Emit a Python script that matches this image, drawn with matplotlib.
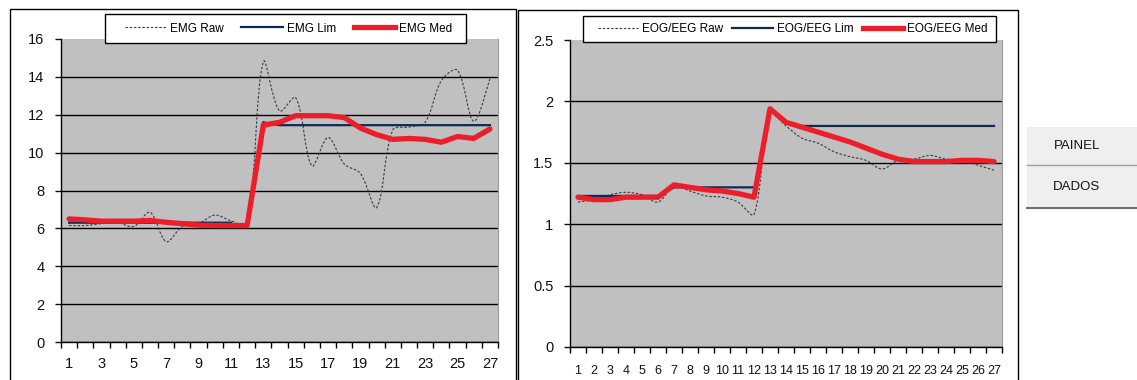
import numpy as np
import matplotlib
matplotlib.use("Agg")
import matplotlib.pyplot as plt
from matplotlib.path import Path
from matplotlib.patches import PathPatch, Rectangle
from matplotlib.lines import Line2D

plt.rcParams['font.family'] = ['Liberation Sans', 'DejaVu Sans']

sessions = list(range(1, 28))

emg_raw = [6.15, 6.15, 6.25, 6.3, 6.1, 6.85, 5.3, 6.1, 6.25, 6.7, 6.4, 6.2, 14.8,
           12.2, 12.9, 9.3, 10.8, 9.4, 8.9, 7.1, 11.2, 11.35, 11.6, 13.8, 14.35, 11.65, 13.9]
emg_lim = [6.3] * 11 + [np.nan] + [11.6] + [11.45] * 14
emg_med = [6.5, 6.45, 6.38, 6.38, 6.38, 6.42, 6.32, 6.25, 6.17, 6.15, 6.15, 6.15, 11.45,
           11.6, 11.95, 11.95, 11.95, 11.85, 11.3, 10.95, 10.7, 10.75, 10.7, 10.55, 10.85, 10.75, 11.25]

eog_raw = [1.18, 1.20, 1.24, 1.26, 1.24, 1.18, 1.31, 1.27, 1.23, 1.22, 1.18, 1.08, 1.90,
           1.80, 1.70, 1.66, 1.59, 1.55, 1.52, 1.45, 1.52, 1.53, 1.56, 1.53, 1.52, 1.48, 1.44]
eog_lim = [1.23] * 6 + [1.30] * 6 + [np.nan] + [1.82] + [1.80] * 13
eog_med = [1.22, 1.20, 1.20, 1.22, 1.22, 1.22, 1.32, 1.30, 1.28, 1.27, 1.25, 1.22, 1.94,
           1.83, 1.79, 1.75, 1.71, 1.67, 1.62, 1.57, 1.53, 1.51, 1.51, 1.51, 1.52, 1.52, 1.51]

W, H = 1137, 380
RED = '#EE1D2A'
NAVY = '#0B2A57'
RAW = '#3A3A3A'


def px_box(x0, y0, x1, y1):
    return [x0 / W, 1 - y1 / H, (x1 - x0) / W, (y1 - y0) / H]


def smooth_path(x, y, sx, sy):
    # smoothed line as cubic Beziers; tangents weighted by on-screen segment
    # lengths (sx, sy = pixels per data unit) so big jumps don't overshoot
    pts = np.column_stack([np.asarray(x, float) * sx, np.asarray(y, float) * sy])
    n = len(pts)
    d = np.r_[0.0, np.hypot(*np.diff(pts, axis=0).T), 0.0]
    tang = [pts[min(i + 1, n - 1)] - pts[max(i - 1, 0)] for i in range(n)]
    verts = [pts[0]]
    codes = [Path.MOVETO]
    for i in range(n - 1):
        a = d[i + 1] / (d[i] + d[i + 1]) / 3 if i > 0 else 1 / 6
        b = d[i + 1] / (d[i + 1] + d[i + 2]) / 3 if i < n - 2 else 1 / 6
        verts += [pts[i] + tang[i] * a, pts[i + 1] - tang[i + 1] * b, pts[i + 1]]
        codes += [Path.CURVE4] * 3
    verts = np.array(verts) / [sx, sy]
    return Path(verts, codes)


def draw_chart(ax, raw, lim, med, ymax, ystep, label_every, xfs, xpad, axw, axh):
    ax.set_facecolor('#C0C0C0')
    ax.set_xlim(0.5, 27.5)
    ax.set_ylim(0, ymax)
    yt = np.arange(0, ymax + ystep / 2, ystep)
    ax.set_yticks(yt)
    ax.set_yticklabels(['%g' % v for v in yt], fontsize=10.5)
    ax.yaxis.grid(True, color='black', lw=1.0)
    ax.set_axisbelow(True)
    ax.yaxis.get_gridlines()[-1].set_visible(False)

    shown = sessions[::label_every]
    ax.set_xticks(shown)
    ax.set_xticklabels([str(s) for s in shown], fontsize=xfs)
    ax.set_xticks(np.arange(0.5, 28, 1), minor=True)
    ax.tick_params(axis='x', which='major', length=0, pad=xpad)
    ax.tick_params(axis='x', which='minor', length=4, width=1, direction='out')
    ax.tick_params(axis='y', length=4, width=1, direction='out', pad=8)
    ax.tick_params(colors='#111111')

    for side in ('left', 'bottom'):
        ax.spines[side].set_color('black')
        ax.spines[side].set_linewidth(1.0)
    ax.spines['top'].set_visible(False)
    ax.spines['right'].set_color('#9A9A9A')

    ax.add_patch(PathPatch(smooth_path(sessions, raw, axw / 27, axh / ymax), fill=False,
                           ec=RAW, lw=0.8, linestyle=(0, (2.2, 1.6)), zorder=3))
    ax.plot(sessions, lim, color=NAVY, lw=1.6, zorder=4)
    ax.plot(sessions, med, color=RED, lw=3.8, zorder=5,
            solid_joinstyle='round', solid_capstyle='round')


def draw_legend(fig, names, box, handlelength, columnspacing):
    x0, y0, x1, y1 = box
    fig.add_artist(Rectangle((x0 / W, 1 - y1 / H), (x1 - x0) / W, (y1 - y0) / H,
                             transform=fig.transFigure, fc='white', ec='black',
                             lw=1.0, zorder=5))
    handles = [Line2D([], [], color=RAW, lw=0.8, linestyle=(0, (2.2, 1.6))),
               Line2D([], [], color=NAVY, lw=1.6),
               Line2D([], [], color=RED, lw=3.8)]
    cx = (x0 + x1) / 2 / W + 3 / W
    leg = fig.legend(handles, names, loc='center', bbox_to_anchor=(cx, 1 - (y0 + y1) / 2 / H),
                     ncol=3, fontsize=8.5, frameon=False, handlelength=handlelength,
                     handletextpad=0.35, columnspacing=columnspacing, borderpad=0,
                     borderaxespad=0)
    leg.set_zorder(6)


fig = plt.figure(figsize=(W / 100, H / 100), dpi=100)
fig.patch.set_facecolor('white')

# chart frames
fig.add_artist(Rectangle((10 / W, -0.05), (516 - 10) / W, (H - 9) / H + 0.05,
                         transform=fig.transFigure, fill=False, ec='black', lw=1.0))
fig.add_artist(Rectangle((518 / W, -0.05), (1018 - 518) / W, (H - 10) / H + 0.05,
                         transform=fig.transFigure, fill=False, ec='black', lw=1.0))

ax1 = fig.add_axes(px_box(61, 39, 498, 342))
draw_chart(ax1, emg_raw, emg_lim, emg_med, 16, 2, 2, 10.5, 11, 437, 303)
draw_legend(fig, ['EMG Raw', 'EMG Lim', 'EMG Med'], (105, 14, 466, 43), 3.5, 1.5)

ax2 = fig.add_axes(px_box(570, 40, 1002, 347))
draw_chart(ax2, eog_raw, eog_lim, eog_med, 2.5, 0.5, 1, 9, 13, 432, 307)
draw_legend(fig, ['EOG/EEG Raw', 'EOG/EEG Lim', 'EOG/EEG Med'], (583, 16, 996, 42), 3.4, 0.8)

# side buttons
for label, (top, bottom) in zip(['PAINEL', 'DADOS'], [(127, 165), (166, 208)]):
    fig.add_artist(Rectangle((1027 / W, 1 - bottom / H), (W - 1027) / W, (bottom - top) / H,
                             transform=fig.transFigure, fc='#EFEFEF', ec='none'))
    fig.add_artist(Line2D([1027 / W, 1], [1 - bottom / H] * 2, transform=fig.transFigure,
                          color='#A0A0A0' if label == 'PAINEL' else '#707070',
                          lw=1.0 if label == 'PAINEL' else 1.5))
    fig.text(1077 / W, 1 - (top + bottom) / 2 / H, label, ha='center', va='center',
             fontsize=9.5, color='#111111')

fig.savefig('out.png', dpi=100)
